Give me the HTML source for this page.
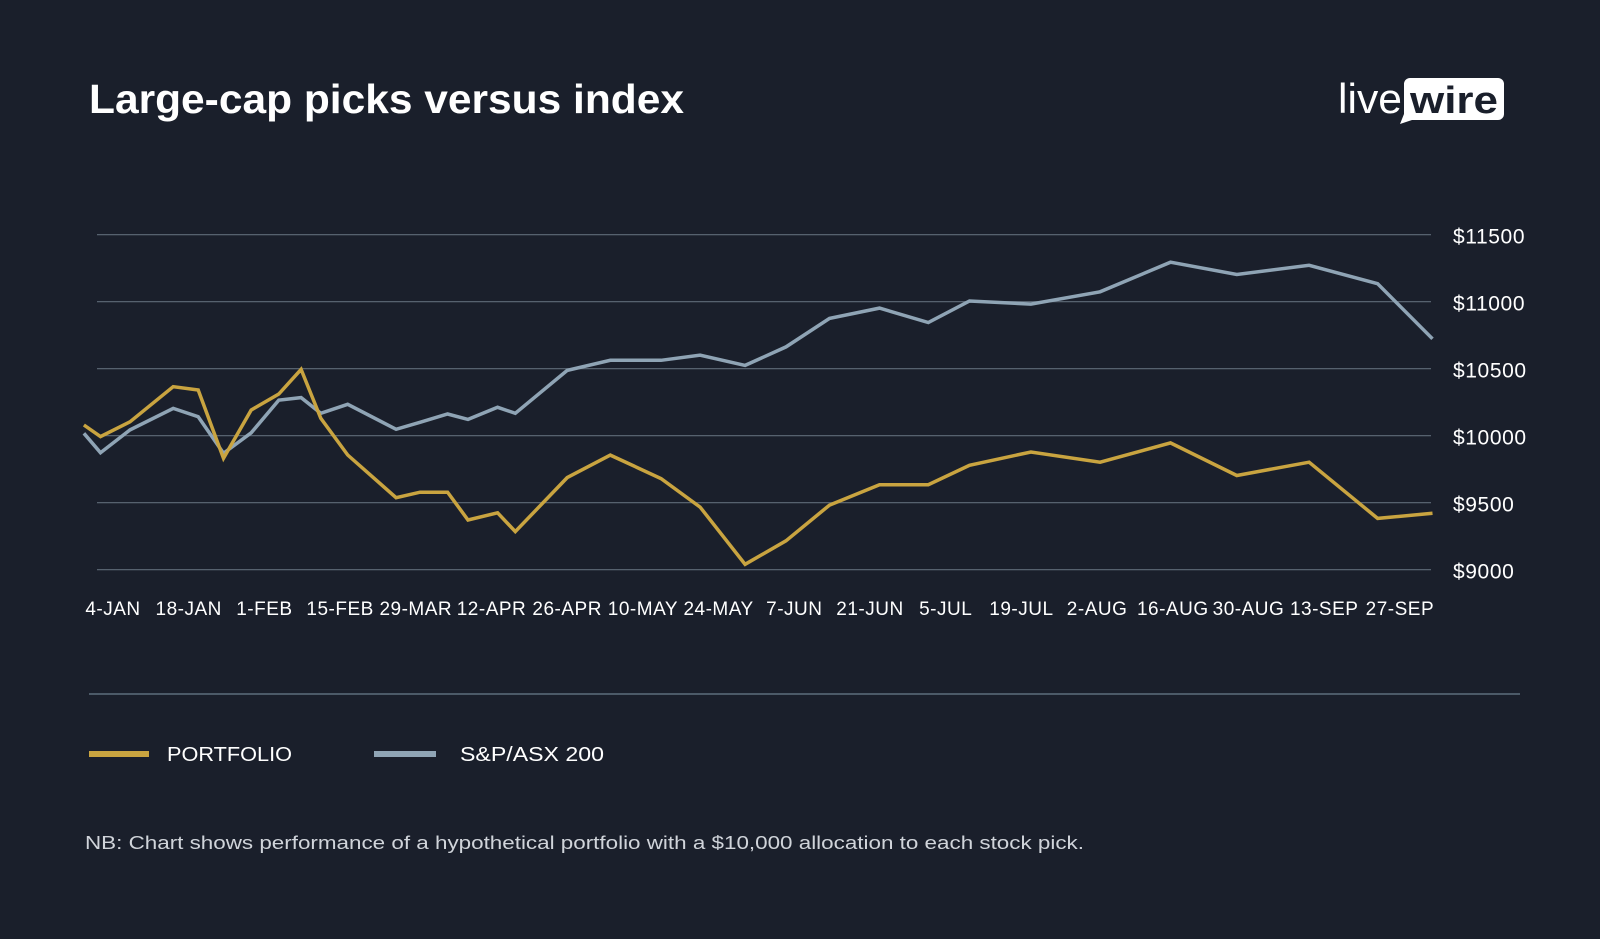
<!DOCTYPE html>
<html><head><meta charset="utf-8"><style>
html,body{margin:0;padding:0;background:#1a1f2b;}
svg{display:block;font-family:"Liberation Sans",sans-serif;}
</style></head><body>
<svg id="chart" width="1600" height="939" viewBox="0 0 1600 939">
<rect width="1600" height="939" fill="#1a1f2b"/>
<text x="89" y="113" font-size="41" font-weight="bold" fill="#ffffff" textLength="595" lengthAdjust="spacingAndGlyphs">Large-cap picks versus index</text>
<g>
<text x="1338" y="113" font-size="42" fill="#ffffff" textLength="64" lengthAdjust="spacingAndGlyphs">live</text>
<path d="M1410 78 H1498 a6 6 0 0 1 6 6 V114 a6 6 0 0 1 -6 6 H1412 L1400 124 L1404 114 V84 a6 6 0 0 1 6 -6 Z" fill="#ffffff"/>
<text x="1410" y="113" font-size="38" font-weight="bold" fill="#1a1f2b" textLength="88" lengthAdjust="spacingAndGlyphs">wire</text>
</g>
<g id="grid"></g>
<g id="lines"></g>
<g id="xlabels"></g>
<line x1="89" y1="694" x2="1520" y2="694" stroke="#4c5a68" stroke-width="2"/>
<g>
<g>
<line x1="89" y1="754" x2="149" y2="754" stroke="#c9a440" stroke-width="6"/>
<text x="167" y="761" font-size="20" fill="#ffffff" textLength="125" lengthAdjust="spacingAndGlyphs">PORTFOLIO</text>
</g>
<g>
<line x1="374" y1="754" x2="436" y2="754" stroke="#8fa4b5" stroke-width="6"/>
<text x="460" y="761" font-size="20" fill="#ffffff" textLength="144" lengthAdjust="spacingAndGlyphs">S&amp;P/ASX 200</text>
</g>
</g>
<text x="85" y="849" font-size="18.5" fill="#d0d4da" textLength="999" lengthAdjust="spacingAndGlyphs">NB: Chart shows performance of a hypothetical portfolio with a $10,000 allocation to each stock pick.</text>
</svg>
<script>
const xLabels=["4-JAN","18-JAN","1-FEB","15-FEB","29-MAR","12-APR","26-APR","10-MAY","24-MAY","7-JUN","21-JUN","5-JUL","19-JUL","2-AUG","16-AUG","30-AUG","13-SEP","27-SEP"];
const yTicks=[9000,9500,10000,10500,11000,11500];
const weeks=[-0.77,-0.33,0.45,1.59,2.25,2.92,3.65,4.38,4.97,5.49,6.20,7.48,8.11,8.84,9.38,10.16,10.63,12.00,13.14,14.48,15.51,16.70,17.78,18.93,20.25,21.54,22.63,24.25,26.08,27.94,29.69,31.60,33.41,34.86];
const portfolio=[10080,9993,10104,10366,10341,9831,10192,10311,10495,10130,9856,9537,9578,9578,9371,9425,9284,9687,9855,9680,9467,9040,9216,9482,9634,9634,9779,9878,9802,9946,9703,9802,9383,9421];
const asx200=[10018,9873,10043,10204,10142,9869,10022,10266,10284,10167,10234,10048,10100,10162,10122,10212,10167,10487,10563,10563,10601,10525,10663,10875,10952,10845,11005,10982,11074,11295,11203,11272,11134,10723];
const NS="http://www.w3.org/2000/svg";
function xScale(w){return 113+w*37.85;}
function yScale(v){return 435.7-(v-10000)*67/500;}
function mk(tag,attrs,parent){const e=document.createElementNS(NS,tag);for(const k in attrs)e.setAttribute(k,attrs[k]);parent.appendChild(e);return e;}
const grid=document.getElementById('grid');
yTicks.forEach(t=>{
  const y=yScale(t);
  const l=mk('line',{x1:97,x2:1431,y1:y,y2:y,stroke:'#5f6b78','stroke-width':1.2},grid);
  
  
  const tx=mk('text',{x:1453,y:y+9,'font-size':21,fill:'#ffffff','letter-spacing':0.6},grid);
  tx.textContent='$'+t;
  
  
});
const xl=document.getElementById('xlabels');
xLabels.forEach((s,i)=>{
  const tx=mk('text',{x:xScale(i*2),y:615,'font-size':19,fill:'#ffffff','text-anchor':'middle','letter-spacing':0.5},xl);
  tx.textContent=s;
  
  
});
const lines=document.getElementById('lines');
function pts(arr){return arr.map((v,i)=>xScale(weeks[i]).toFixed(1)+','+yScale(v).toFixed(1)).join(' ');}
const g=mk('polyline',{points:pts(asx200),fill:'none',stroke:'#8fa4b5','stroke-width':3.5,'stroke-linejoin':'miter'},lines);


const p=mk('polyline',{points:pts(portfolio),fill:'none',stroke:'#c9a440','stroke-width':3.5,'stroke-linejoin':'miter'},lines);


</script>
</body></html>
